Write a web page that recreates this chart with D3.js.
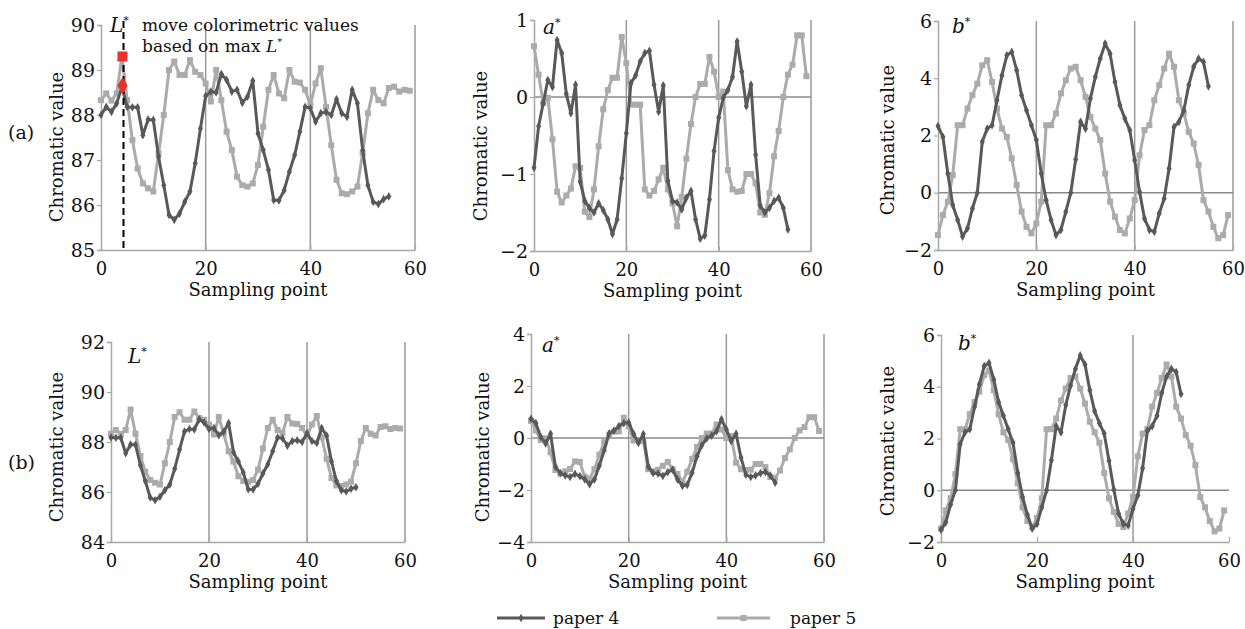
<!DOCTYPE html>
<meta charset="utf-8">
<html>
<head>
<script src="https://d3js.org/d3.v7.min.js"></script>
<style>
  body { margin: 0; background: #fff; }
  svg text { font-family: "DejaVu Serif", serif; fill: #111; }
</style>
</head>
<body>
<div id="chart"></div>
<script>
// ---- data ----
const xTicks = [0, 20, 40, 60];
const shiftPaper4 = 5; // row (b): paper 4 moved so max L* lines up

// paper 4, sampling points 0..55
const L4 = [88.0, 88.18, 88.07, 88.26, 88.62, 88.18, 88.17, 88.17, 87.55, 87.9, 87.89, 87.07, 86.44, 85.78, 85.67, 85.81,
  86.07, 86.3, 86.93, 87.7, 88.42, 88.52, 88.5, 88.91, 88.78, 88.52, 88.56, 88.27, 88.41, 88.76, 87.59, 87.22,
  86.78, 86.11, 86.1, 86.33, 86.74, 87.11, 87.63, 88.18, 88.15, 87.85, 88.04, 88.07, 88.0, 88.35, 88.04, 87.96,
  88.56, 88.26, 87.22, 86.44, 86.07, 86.02, 86.13, 86.19];
const a4 = [-0.92, -0.38, -0.08, 0.22, 0.13, 0.74, 0.57, 0.04, -0.21, 0.16, -1.1, -1.35, -1.44, -1.5, -1.38, -1.47,
  -1.59, -1.78, -1.59, -1.06, -0.47, 0.18, 0.28, 0.46, 0.57, 0.6, 0.16, -0.19, 0.15, -1.09, -1.35, -1.37,
  -1.46, -1.31, -1.22, -1.59, -1.84, -1.8, -1.33, -0.7, -0.27, -0.01, 0.09, 0.26, 0.72, 0.33, -0.12, 0.16,
  -0.75, -1.41, -1.5, -1.44, -1.35, -1.31, -1.44, -1.72];
const b4 = [2.33, 1.95, 0.67, -0.43, -0.95, -1.53, -1.24, -0.55, 0.0, 1.78, 2.24, 2.36, 3.23, 4.1, 4.8, 4.92,
  4.28, 3.41, 2.88, 2.36, 1.84, 0.67, -0.26, -0.95, -1.48, -1.3, -0.66, 0.0, 1.16, 2.48, 2.24, 3.29,
  4.05, 4.69, 5.21, 4.86, 3.87, 3.06, 2.59, 2.19, 1.14, 0.03, -0.9, -1.3, -1.36, -0.72, -0.2, 0.85,
  2.3, 2.48, 2.88, 3.76, 4.4, 4.69, 4.57, 3.72];

// paper 5, sampling points 0..59
const L5 = [88.33, 88.48, 88.32, 88.48, 89.3, 88.33, 87.44, 86.81, 86.48, 86.37, 86.3, 87.15, 88.0, 89.0, 89.19, 88.89,
  88.89, 89.22, 88.96, 88.89, 88.7, 88.3, 89.0, 88.33, 87.63, 87.22, 86.63, 86.44, 86.41, 86.48, 86.89, 87.74,
  88.56, 88.89, 88.48, 88.37, 89.0, 88.74, 88.72, 88.56, 88.22, 88.7, 89.04, 88.18, 87.33, 86.56, 86.26, 86.24,
  86.3, 86.41, 87.15, 88.04, 88.56, 88.33, 88.26, 88.6, 88.63, 88.52, 88.56, 88.54];
const a5 = [0.66, 0.29, -0.08, -0.01, -0.55, -1.23, -1.37, -1.28, -1.19, -0.9, -0.92, -1.49, -1.56, -1.2, -0.64, -0.16,
  0.09, 0.25, 0.25, 0.78, 0.44, -0.1, -0.1, -0.1, -1.2, -1.28, -1.22, -1.07, -0.92, -1.2, -1.38, -1.68,
  -1.3, -0.8, -0.35, 0.0, 0.17, 0.17, 0.52, 0.33, 0.0, 0.07, -0.95, -1.2, -1.23, -1.22, -1.0, -1.0,
  -1.12, -1.5, -1.53, -1.25, -0.77, -0.44, 0.0, 0.29, 0.42, 0.8, 0.8, 0.27];
const b5 = [-1.48, -0.78, -0.31, 0.62, 2.36, 2.36, 2.94, 3.41, 3.81, 4.45, 4.63, 3.87, 2.94, 2.24, 1.95, 1.2,
  0.27, -0.66, -1.19, -1.42, -1.07, -0.31, 2.36, 2.36, 2.77, 3.47, 3.93, 4.34, 4.4, 3.93, 3.35, 2.65,
  2.24, 1.84, 0.67, -0.31, -0.84, -1.3, -1.42, -0.9, -0.26, 1.31, 2.19, 2.36, 3.23, 3.76, 4.34, 4.86,
  4.4, 3.23, 2.77, 2.13, 1.72, 0.97, -0.26, -0.66, -1.19, -1.59, -1.48, -0.78];

// markers on the dashed line in panel (a) L*
const maxPoint = 4.1, maxLine = 4.3;
const maxL5 = 89.3, maxL4 = 88.65;

const col4 = "#595959", col5 = "#ababab";

// ---- layout ----
const W = 1245, H = 629;
const svg = d3.select("#chart").append("svg").attr("width", W).attr("height", H);

const panels = [
  { l: 101, r: 415, t: 25, b: 250, dom: [85, 90], ticks: [85, 86, 87, 88, 89, 90], s4: L4, s5: L5, name: "L", zero: false, grid: [20, 40, 60], ylab: [57, 147], nx: 110, ny: 32, ann: true },
  { l: 534, r: 811, t: 20, b: 251, dom: [-2, 1], ticks: [-2, -1, 0, 1], s4: a4, s5: a5, name: "a", zero: true, grid: [20, 40, 60], ylab: [481, 146], nx: 543, ny: 34 },
  { l: 938, r: 1233, t: 21, b: 250, dom: [-2, 6], ticks: [-2, 0, 2, 4, 6], s4: b4, s5: b5, name: "b", zero: true, grid: [20, 40, 60], ylab: [888, 140], nx: 952, ny: 33 },
  { l: 111, r: 405, t: 342, b: 542, dom: [84, 92], ticks: [84, 86, 88, 90, 92], s4: L4.slice(shiftPaper4), s5: L5, name: "L", zero: false, grid: [20, 40, 60], ylab: [57, 447], nx: 128, ny: 363 },
  { l: 531, r: 824, t: 334, b: 542, dom: [-4, 4], ticks: [-4, -2, 0, 2, 4], s4: a4.slice(shiftPaper4), s5: a5, name: "a", zero: true, grid: [20, 40, 60], ylab: [483, 447], nx: 542, ny: 352 },
  { l: 941, r: 1229, t: 335, b: 542, dom: [-2, 6], ticks: [-2, 0, 2, 4, 6], s4: b4.slice(shiftPaper4), s5: b5, name: "b", zero: true, grid: [40], ylab: [888, 441], nx: 958, ny: 350 }
];

const diamond = d3.symbol().type(d3.symbolDiamond).size(22);
const fmt = d3.format("d");

panels.forEach(p => {
  const x = d3.scaleLinear().domain([0, 60]).range([p.l, p.r]);
  const y = d3.scaleLinear().domain(p.dom).range([p.b, p.t]);
  const g = svg.append("g");

  // vertical grid lines
  g.selectAll(".grid").data(p.grid).enter().append("line")
    .attr("x1", d => x(d)).attr("x2", d => x(d))
    .attr("y1", p.t).attr("y2", p.b)
    .attr("stroke", "#9a9a9a").attr("stroke-width", 1.5);

  if (p.zero) {
    g.append("line").attr("x1", p.l).attr("x2", p.r).attr("y1", y(0)).attr("y2", y(0))
      .attr("stroke", "#8a8a8a").attr("stroke-width", 1.5);
  }

  // axes
  const ax = g.append("g").attr("transform", `translate(0,${p.b})`)
    .call(d3.axisBottom(x).tickValues(xTicks).tickFormat(fmt).tickSizeInner(-5).tickSizeOuter(0).tickPadding(12));
  const ay = g.append("g").attr("transform", `translate(${p.l},0)`)
    .call(d3.axisLeft(y).tickValues(p.ticks).tickFormat(fmt).tickSize(4).tickPadding(2));
  [ax, ay].forEach(a => {
    a.select(".domain").attr("stroke", "#a8a8a8").attr("stroke-width", 1.5);
    a.selectAll(".tick line").attr("stroke", "#a8a8a8").attr("stroke-width", 1.2);
    a.selectAll("text").style("font-size", "19px").attr("fill", "#111").style("font-family", "DejaVu Serif, serif");
  });
  ax.selectAll("text").style("font-size", "18px");

  const line = d3.line().x((d, i) => x(i)).y(d => y(d));

  // paper 5
  g.append("path").datum(p.s5).attr("d", line).attr("fill", "none")
    .attr("stroke", col5).attr("stroke-width", 3).attr("stroke-linejoin", "round");
  g.selectAll(".m5").data(p.s5).enter().append("rect")
    .attr("x", (d, i) => x(i) - 3).attr("y", d => y(d) - 3)
    .attr("width", 6).attr("height", 6).attr("fill", col5);

  // paper 4
  g.append("path").datum(p.s4).attr("d", line).attr("fill", "none")
    .attr("stroke", col4).attr("stroke-width", 3).attr("stroke-linejoin", "round");
  g.selectAll(".m4").data(p.s4).enter().append("path")
    .attr("d", diamond).attr("transform", (d, i) => `translate(${x(i)},${y(d)})`)
    .attr("fill", col4);

  // panel name, e.g. L*
  const nm = g.append("text").attr("x", p.nx).attr("y", p.ny).style("font-size", "20px");
  nm.append("tspan").style("font-style", "italic").text(p.name);
  nm.append("tspan").attr("dy", -8).style("font-size", "11px").text("*");

  // axis titles
  g.append("text").attr("x", (p.l + p.r) / 2).attr("y", p.b + 46)
    .attr("text-anchor", "middle").style("font-size", "18px").text("Sampling point");
  g.append("text").attr("transform", `translate(${p.ylab[0]},${p.ylab[1]}) rotate(-90)`)
    .attr("text-anchor", "middle").attr("dy", "0.35em").style("font-size", "18px").text("Chromatic value");

  if (p.ann) {
    g.append("line").attr("x1", x(maxLine)).attr("x2", x(maxLine)).attr("y1", p.t - 4).attr("y2", p.b)
      .attr("stroke", "#000").attr("stroke-width", 2).attr("stroke-dasharray", "7,4");
    g.append("rect").attr("x", x(maxPoint) - 5).attr("y", y(maxL5) - 5).attr("width", 10).attr("height", 10).attr("fill", "#e8322c");
    g.append("path").attr("d", d3.symbol().type(d3.symbolDiamond).size(90))
      .attr("transform", `translate(${x(maxPoint)},${y(maxL4)})`).attr("fill", "#e8322c");
    g.append("text").attr("x", 142).attr("y", 31).style("font-size", "17px").text("move colorimetric values");
    const t2 = g.append("text").attr("x", 142).attr("y", 52).style("font-size", "17px");
    t2.append("tspan").text("based on max ");
    t2.append("tspan").style("font-style", "italic").text("L");
    t2.append("tspan").attr("dy", -7).style("font-size", "10px").text("*");
  }
});

// row labels
svg.append("text").attr("x", 8).attr("y", 139).style("font-size", "19px").text("(a)");
svg.append("text").attr("x", 8).attr("y", 469).style("font-size", "19px").text("(b)");

// legend
const leg = svg.append("g");
const legItems = [
  { x1: 497, x2: 545, tx: 553, c: col4, label: "paper 4", sq: false },
  { x1: 717, x2: 770, tx: 790, c: col5, label: "paper 5", sq: true }
];
legItems.forEach(d => {
  leg.append("line").attr("x1", d.x1).attr("x2", d.x2).attr("y1", 618).attr("y2", 618)
    .attr("stroke", d.c).attr("stroke-width", 3);
  if (d.sq) {
    leg.append("rect").attr("x", (d.x1 + d.x2) / 2 - 3).attr("y", 615).attr("width", 6).attr("height", 6).attr("fill", d.c);
  } else {
    leg.append("path").attr("d", diamond).attr("transform", `translate(${(d.x1 + d.x2) / 2},618)`).attr("fill", d.c);
  }
  leg.append("text").attr("x", d.tx).attr("y", 624).style("font-size", "17px").text(d.label);
});
</script>
</body>
</html>
